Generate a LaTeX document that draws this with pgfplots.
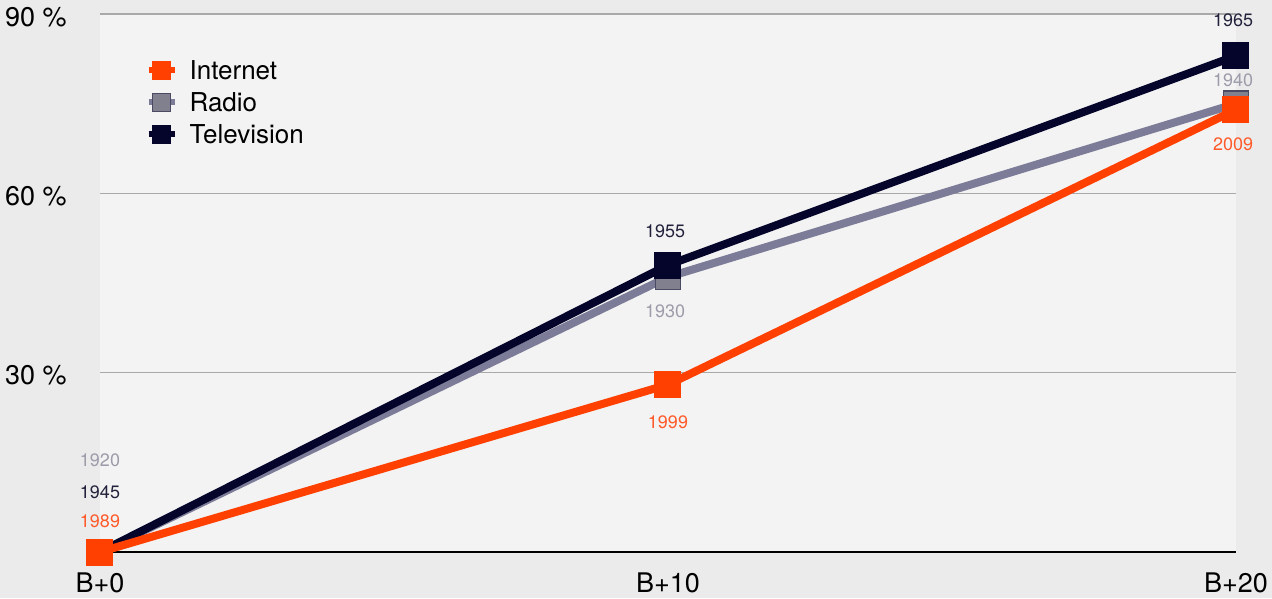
\documentclass[border=0pt]{standalone}
\usepackage{pgfplots}
\pgfplotsset{compat=1.18}
\usepackage{fontspec}
\setmainfont{TeX Gyre Heros}
\definecolor{bgc}{HTML}{EBEBEB}
\definecolor{plotbg}{HTML}{F3F3F3}
\definecolor{gridc}{HTML}{A9A9A9}
\definecolor{inet}{HTML}{FF4000}
\definecolor{inetlbl}{HTML}{FF5A2A}
\definecolor{radio}{HTML}{7C7C98}
\definecolor{radiomark}{HTML}{80808F}
\definecolor{radiodark}{HTML}{4A4A62}
\definecolor{radiolbl}{HTML}{9C9CAA}
\definecolor{tv}{HTML}{05052B}
\definecolor{tvlbl}{HTML}{22223C}
\begin{document}
\begin{tikzpicture}
\fill[bgc] (-100pt,-46pt) rectangle (1172pt,552pt);
\begin{axis}[
  at={(0pt,0pt)}, anchor=south west,
  scale only axis, width=1136pt, height=538pt,
  xmin=0, xmax=20, ymin=0, ymax=90,
  clip=false,
  axis background/.style={fill=plotbg},
  axis x line*=bottom, axis y line*=left,
  x axis line style={black, line width=2pt, -},
  y axis line style={draw=none},
  xtick={0,10,20}, xticklabels={B+0,B+10,B+20},
  ytick={30,60,90}, yticklabels={30 \%,60 \%,90 \%},
  major tick length=0pt,
  ymajorgrids, grid style={gridc, line width=1.5pt},
  tick label style={font=\fontsize{27}{30}\selectfont, black},
  yticklabel style={anchor=west, inner sep=0pt, xshift=-95pt, yshift=-3pt},
  xticklabel style={yshift=-17pt},
  legend style={at={(axis cs:0.8,82.1)}, anchor=north west, draw=none, fill=none, inner sep=0pt,
    font=\fontsize{26}{28}\selectfont,
    nodes={inner sep=0pt, text height=18pt, text depth=0pt},
    row sep=14pt,
    /tikz/every odd column/.style={column sep=12pt}},
  legend cell align=left,
  legend image code/.code={\draw[mark repeat=2, mark phase=2] plot coordinates {(0pt,0pt) (13pt,0pt) (26pt,0pt)};},
]
\addlegendimage{inet, line width=6pt, mark=square*, mark size=9pt, mark options={fill=inet, draw=inet, line width=0.5pt}}
\addlegendimage{radio, line width=6pt, mark=square*, mark size=9pt, mark options={fill=radiomark, draw=radiodark, line width=1pt}}
\addlegendimage{tv, line width=6pt, mark=square*, mark size=9pt, mark options={fill=tv, draw=tv, line width=0.5pt}}
\legend{Internet, Radio, Television}

\addplot[radio, line width=8pt, mark=square*, mark size=12.5pt, mark options={fill=radiomark, draw=radiodark, line width=1.5pt}, forget plot]
  coordinates {(0,0) (10,46) (20,75)};
\addplot[tv, line width=8pt, mark=square*, mark size=13pt, mark options={fill=tv, draw=tv, line width=1pt}, forget plot]
  coordinates {(0,0) (10,48) (20,83)};
\addplot[inet, line width=8pt, mark=square*, mark size=13pt, mark options={fill=inet, draw=inet, line width=1pt}, forget plot]
  coordinates {(0,0) (10,28) (20,74)};

\begin{scope}[every node/.style={font=\fontsize{18}{20}\selectfont}]
\node[text=radiolbl] at (axis cs:0,15.4) {1920};
\node[text=tvlbl] at (axis cs:0,10.0) {1945};
\node[text=inetlbl] at (axis cs:0,5.2) {1989};
\node[text=tvlbl] at (axis cs:9.95,53.7) {1955};
\node[text=radiolbl] at (axis cs:9.95,40.3) {1930};
\node[text=inetlbl] at (axis cs:10,21.7) {1999};
\node[text=tvlbl] at (axis cs:19.95,89.0) {1965};
\node[text=radiolbl] at (axis cs:19.95,79.0) {1940};
\node[text=inetlbl] at (axis cs:19.95,68.2) {2009};
\end{scope}
\end{axis}
\end{tikzpicture}
\end{document}
